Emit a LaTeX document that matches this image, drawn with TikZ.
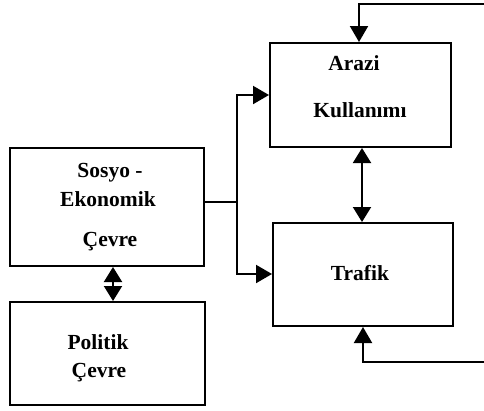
\documentclass[tikz,border=0pt]{standalone}
\usepackage{fontspec}
\setmainfont{Liberation Serif}
\usetikzlibrary{arrows.meta}
\begin{document}
\begin{tikzpicture}[x=1pt,y=-1pt,
  lbl/.style={font=\bfseries\fontsize{21.5}{24}\selectfont,inner sep=0pt},
  conn/.style={line width=2pt},
  tip/.style={-{Triangle[length=16pt,width=18pt]}},
  dtip/.style={{Triangle[length=15pt,width=18pt]}-{Triangle[length=15pt,width=18pt]}}]
\useasboundingbox (0,0) rectangle (484,410);
% boxes
\node[draw,line width=2pt,minimum width=194pt,minimum height=118pt,inner sep=0pt] (sosyo) at (107,207) {};
\node[draw,line width=2pt,minimum width=195pt,minimum height=103pt,inner sep=0pt] (politik) at (107.5,353.5) {};
\node[draw,line width=2pt,minimum width=181pt,minimum height=104pt,inner sep=0pt] (arazi) at (360.5,95) {};
\node[draw,line width=2pt,minimum width=180pt,minimum height=103pt,inner sep=0pt] (trafik) at (363,274.5) {};
% labels
\node[lbl] (s1) at (110,173) {Sosyo -};
\node[lbl] (s2) at (108,199) {Ekonomik};
\node[lbl] (s3) at (110,242) {Çevre};
\node[lbl] (p1) at (98,342) {Politik};
\node[lbl] (p2) at (99,373) {Çevre};
\node[lbl] (a1) at (354,63) {Arazi};
\node[lbl] (a2) at (360,110) {Kullanımı};
\node[lbl] (t1) at (360,273) {Trafik};
% connectors
\coordinate (j) at (237,202);
\coordinate (ja) at (237,95);
\coordinate (jt) at (237,274);
\draw[conn] ([yshift=5pt]sosyo.east) -- (j);
\draw[conn,tip] (j) -- (ja) -- (arazi.west |- ja);
\draw[conn,tip] (j) -- (jt) -- (trafik.west |- jt);
\coordinate (sp) at (113,0);
\draw[conn,dtip] (sosyo.south -| sp) -- (politik.north -| sp);
\coordinate (at) at (362,0);
\draw[conn,dtip] (arazi.south -| at) -- (trafik.north -| at);
\coordinate (f1) at (484,3.5);
\coordinate (f1b) at (359,3.5);
\draw[conn,tip] (f1) -- (f1b) -- (arazi.north -| f1b);
\coordinate (f2) at (484,362);
\coordinate (f2b) at (363,362);
\draw[conn,tip] (f2) -- (f2b) -- (trafik.south -| f2b);
\end{tikzpicture}
\end{document}
